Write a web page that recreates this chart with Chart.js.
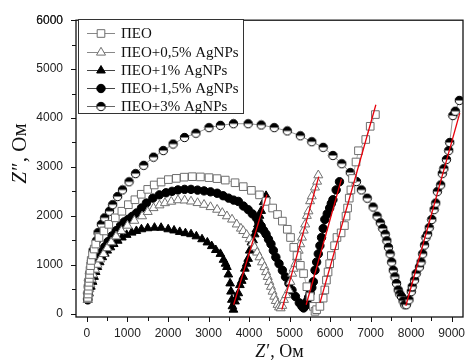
<!DOCTYPE html>
<html>
<head>
<meta charset="utf-8">
<script src="https://cdn.jsdelivr.net/npm/chart.js@4.4.1/dist/chart.umd.min.js"></script>
<style>
  html, body { margin: 0; padding: 0; background: #fff; }
  #wrap { width: 472px; height: 361px; }
</style>
</head>
<body>
<div id="wrap"><canvas id="chart" width="472" height="361"></canvas></div>
<script>
// Nyquist plot data, Z' and Z'' in Ohm
const seriesLabels = ['ПЕО', 'ПЕО+0,5% AgNPs', 'ПЕО+1% AgNPs', 'ПЕО+1,5% AgNPs', 'ПЕО+3% AgNPs'];

const peoX = [20, 28, 35, 42, 50, 58, 66, 76, 90, 105, 138, 180, 217, 297, 418, 539, 700, 862, 1022, 1184,
  1340, 1500, 1660, 1830, 2010, 2206, 2400, 2600, 2800, 3012, 3210, 3413, 3655, 3857, 4058, 4259, 4420, 4582, 4703, 4823,
  4944, 5024, 5104, 5184, 5266, 5346, 5427, 5507, 5587, 5628, 5668, 5749, 5829, 5870, 5910, 5950, 5990, 6031, 6111, 6170,
  6272, 6353, 6393, 6432, 6473, 6514, 6553, 6640, 6700, 6880, 6990, 7118];
const peoY = [330, 400, 480, 560, 640, 720, 800, 885, 980, 1087, 1200, 1320, 1422, 1556, 1690, 1825, 1958, 2093, 2227, 2328,
  2440, 2540, 2630, 2690, 2740, 2765, 2790, 2800, 2795, 2780, 2760, 2730, 2676, 2596, 2520, 2428, 2294, 2159, 2026, 1891,
  1724, 1556, 1354, 1187, 986, 818, 550, 348, 147, 46, 80, 147, 316, 483, 684, 851, 1020, 1187, 1388, 1556,
  1650, 1800, 1992, 2159, 2361, 2529, 2763, 3100, 3330, 3560, 3830, 4070];

const ag05X = [20, 40, 60, 85, 115, 150, 200, 260, 330, 410, 500, 600, 720, 850, 1000, 1170, 1361, 1500, 1643, 1790,
  1925, 2080, 2246, 2410, 2568, 2730, 2890, 3050, 3213, 3340, 3454, 3580, 3696, 3800, 3857, 3940, 4017, 4080, 4138, 4200,
  4259, 4320, 4380, 4420, 4461, 4500, 4541, 4580, 4622, 4660, 4703, 4740, 4780, 4820, 4863, 4920, 4984, 5020, 5064, 5100,
  5145, 5185, 5225, 5265, 5306, 5350, 5386, 5427, 5467, 5507, 5548, 5628, 5680, 5709];
const ag05Y = [280, 400, 500, 600, 700, 800, 900, 1000, 1110, 1220, 1340, 1460, 1580, 1690, 1800, 1900, 1992, 2080, 2159, 2215,
  2260, 2290, 2320, 2315, 2294, 2262, 2227, 2180, 2126, 2060, 1992, 1925, 1825, 1740, 1690, 1610, 1523, 1440, 1354, 1250,
  1153, 1050, 952, 850, 751, 650, 550, 450, 348, 260, 181, 130, 110, 160, 282, 380, 483, 650, 818, 920,
  1020, 1150, 1288, 1420, 1556, 1700, 1825, 2000, 2093, 2300, 2400, 2580, 2700, 2830];

const ag1X = [20, 50, 97, 140, 176, 215, 258, 315, 379, 440, 500, 580, 660, 760, 862, 980, 1104, 1220, 1345, 1500,
  1667, 1830, 2005, 2150, 2290, 2430, 2568, 2700, 2840, 2971, 3080, 3180, 3293, 3370, 3420, 3454, 3490, 3534, 3555, 3575,
  3590, 3616, 3655, 3700, 3736, 3775, 3820, 3857, 3897, 3940, 3978, 4017, 4058, 4100, 4140, 4179, 4219, 4259, 4300, 4360,
  4420];
const ag1Y = [280, 420, 550, 650, 751, 850, 952, 1050, 1153, 1225, 1288, 1355, 1422, 1490, 1556, 1610, 1656, 1690, 1724, 1745,
  1757, 1755, 1724, 1700, 1670, 1645, 1623, 1580, 1520, 1455, 1380, 1300, 1221, 1100, 1020, 952, 800, 617, 450, 282,
  150, 80, 248, 330, 416, 583, 670, 751, 919, 1020, 1120, 1288, 1455, 1500, 1620, 1720, 1825, 2000, 2100, 2280,
  2408];

const ag15X = [20, 35, 60, 90, 120, 160, 200, 250, 310, 370, 440, 520, 620, 720, 830, 920, 1022, 1120, 1225, 1345,
  1466, 1626, 1787, 1950, 2100, 2246, 2410, 2568, 2730, 2890, 3050, 3213, 3360, 3495, 3620, 3736, 3860, 3978, 4080, 4179,
  4240, 4300, 4360, 4420, 4480, 4541, 4600, 4662, 4740, 4823, 4900, 4984, 5060, 5145, 5240, 5306, 5346, 5390, 5427, 5470,
  5507, 5550, 5587, 5628, 5668, 5709, 5749, 5789, 5830, 5870, 5930, 5990, 6030, 6070, 6150, 6232];
const ag15Y = [280, 400, 523, 639, 736, 847, 943, 1049, 1161, 1261, 1366, 1472, 1590, 1696, 1799, 1875, 1930, 1990, 2058, 2159,
  2260, 2361, 2428, 2470, 2500, 2529, 2540, 2540, 2525, 2509, 2490, 2461, 2410, 2361, 2320, 2294, 2200, 2126, 2040, 1958,
  1870, 1791, 1700, 1623, 1520, 1422, 1290, 1153, 1020, 885, 750, 617, 480, 348, 220, 147, 115, 160, 248, 330,
  416, 530, 650, 885, 1053, 1221, 1388, 1556, 1740, 1925, 2040, 2159, 2250, 2328, 2529, 2696];

const ag3X = [20, 25, 31, 50, 72, 113, 152, 234, 273, 355, 435, 556, 635, 756, 877, 1039, 1200, 1401, 1643, 1884,
  2126, 2408, 2689, 3012, 3293, 3616, 3978, 4300, 4621, 4944, 5266, 5548, 5829, 6070, 6288, 6498, 6650, 6771, 6916, 7061,
  7158, 7239, 7300, 7360, 7400, 7440, 7481, 7520, 7560, 7600, 7640, 7681, 7720, 7761, 7800, 7842, 7882, 7947, 8003, 8027,
  8084, 8124, 8205, 8245, 8285, 8330, 8365, 8406, 8446, 8510, 8567, 8607, 8647, 8728, 8768, 8808, 8870, 8928, 8952, 9030,
  9089, 9190];
const ag3Y = [300, 420, 550, 680, 818, 1087, 1288, 1489, 1656, 1825, 1958, 2093, 2227, 2394, 2529, 2696, 2863, 3032, 3199, 3334,
  3467, 3602, 3688, 3803, 3850, 3883, 3883, 3857, 3803, 3736, 3636, 3515, 3400, 3233, 3065, 2884, 2700, 2529, 2360, 2179,
  1992, 1857, 1740, 1623, 1490, 1354, 1221, 1053, 885, 751, 617, 483, 400, 348, 260, 181, 181, 282, 449, 550,
  684, 818, 952, 1053, 1221, 1400, 1556, 1623, 1757, 1925, 2126, 2260, 2495, 2630, 2863, 2964, 3150, 3334, 3500, 4050,
  4139, 4360];

// red linear fits of the low-frequency tails (end points)
const fitPeoX = [5750, 7130], fitPeoY = [220, 4270];
const fit05X = [4810, 5720], fit05Y = [80, 2800];
const fit1X = [3620, 4440], fit1Y = [180, 2430];
const fit15X = [5410, 6280], fit15Y = [180, 2750];
const fit3X = [7870, 9200], fit3Y = [160, 4100];

const xTickValues = [0, 1000, 2000, 3000, 4000, 5000, 6000, 7000, 8000, 9000];
const yTickValues = [0, 1000, 2000, 3000, 4000, 5000, 6000];

const toPoints = (xs, ys) => xs.map((x, i) => ({ x: x, y: ys[i] }));

// half filled circle marker (top black, bottom white)
function halfCircle() {
    const c = document.createElement('canvas');
    c.width = 11; c.height = 11;
    const g = c.getContext('2d');
    g.beginPath(); g.arc(5.5, 5.5, 4.2, 0, Math.PI * 2); g.fillStyle = '#fff'; g.fill();
    g.beginPath(); g.arc(5.5, 5.5, 4.2, Math.PI, 0); g.closePath(); g.fillStyle = '#000'; g.fill();
    g.beginPath(); g.arc(5.5, 5.5, 4.2, 0, Math.PI * 2); g.lineWidth = 1; g.strokeStyle = '#000'; g.stroke();
    return c;
}

function series(label, xs, ys, style, radius, fill, stroke, lineColor) {
    return {
        label: label,
        data: toPoints(xs, ys),
        showLine: true,
        borderColor: lineColor,
        borderWidth: 0.7,
        pointStyle: style,
        pointRadius: radius,
        pointBackgroundColor: fill,
        pointBorderColor: stroke,
        pointBorderWidth: 1,
        inLegend: true
    };
}

function fit(xs, ys) {
    return {
        data: toPoints(xs, ys),
        showLine: true,
        borderColor: '#e8000b',
        borderWidth: 1.3,
        pointRadius: 0,
        order: -1,
        inLegend: false
    };
}

const datasets = [
    series(seriesLabels[0], peoX, peoY, 'rect', 5.4, '#fff', '#6e6e6e', '#888'),
    series(seriesLabels[1], ag05X, ag05Y, 'triangle', 5.2, '#fff', '#707070', '#888'),
    series(seriesLabels[2], ag1X, ag1Y, 'triangle', 5, '#000', '#000', '#444'),
    series(seriesLabels[3], ag15X, ag15Y, 'circle', 4.2, '#000', '#000', '#444'),
    series(seriesLabels[4], ag3X, ag3Y, halfCircle(), 4.2, '#000', '#000', '#666'),
    fit(fitPeoX, fitPeoY),
    fit(fit05X, fit05Y),
    fit(fit1X, fit1Y),
    fit(fit15X, fit15Y),
    fit(fit3X, fit3Y)
];

// frame, ticks, axis titles and the boxed legend
const decorations = {
    id: 'decorations',
    afterDraw(chart) {
        const ctx = chart.ctx;
        const a = chart.chartArea;
        const xs = chart.scales.x, ys = chart.scales.y;
        ctx.save();
        ctx.strokeStyle = '#111';
        ctx.lineWidth = 1.3;
        ctx.strokeRect(a.left, a.top, a.right - a.left, a.bottom - a.top);

        ctx.lineWidth = 1;
        ctx.beginPath();
        for (let v = 0; v <= 9000; v += 500) {
            const px = Math.round(xs.getPixelForValue(v)) + 0.5;
            ctx.moveTo(px, a.bottom);
            ctx.lineTo(px, a.bottom + (v % 1000 === 0 ? 5 : 4));
        }
        for (let v = 0; v <= 6000; v += 500) {
            const py = Math.round(ys.getPixelForValue(v)) + 0.5;
            ctx.moveTo(a.left, py);
            ctx.lineTo(a.left - (v % 1000 === 0 ? 5 : 4), py);
        }
        ctx.stroke();

        // axis titles
        ctx.fillStyle = '#111';
        ctx.textBaseline = 'middle';
        drawTitle(ctx, "Z", "\u2032, Ом", 279, 352, 0, 18);
        drawTitle(ctx, "Z", "\u2033, Ом", 20, 154, -Math.PI / 2, 21);

        // legend
        ctx.fillStyle = '#fff';
        ctx.fillRect(78, 19, 165, 94);
        ctx.strokeStyle = '#333';
        ctx.lineWidth = 1;
        ctx.strokeRect(78.5, 19.5, 165, 94);
        const rows = [33, 52, 70, 88, 106];
        chart.data.datasets.filter(d => d.inLegend).forEach((d, i) => {
            const yy = rows[i];
            ctx.strokeStyle = d.borderColor;
            ctx.lineWidth = 1;
            ctx.beginPath();
            ctx.moveTo(87, yy + 0.5);
            ctx.lineTo(115, yy + 0.5);
            ctx.stroke();
            ctx.fillStyle = d.pointBackgroundColor;
            ctx.strokeStyle = d.pointBorderColor;
            Chart.helpers.drawPoint(ctx, { pointStyle: d.pointStyle, radius: d.pointRadius, rotation: 0, borderWidth: 1 }, 101, yy + 0.5);
            ctx.fillStyle = '#111';
            ctx.font = '15px "Liberation Serif", "Times New Roman", serif';
            ctx.textAlign = 'left';
            ctx.textBaseline = 'middle';
            ctx.fillText(d.label, 121, yy + 1);
        });
        ctx.restore();
    }
};

// italic Z followed by the rest in upright serif, centred on (cx, cy)
function drawTitle(ctx, italicPart, rest, cx, cy, angle, size) {
    const fi = 'italic ' + size + 'px "Liberation Serif", serif';
    const fr = size + 'px "Liberation Serif", serif';
    ctx.font = fi;
    const w1 = ctx.measureText(italicPart).width;
    ctx.font = fr;
    const w2 = ctx.measureText(rest).width;
    ctx.save();
    ctx.translate(cx, cy);
    ctx.rotate(angle);
    ctx.textAlign = 'left';
    const x0 = -(w1 + w2) / 2;
    ctx.font = fi;
    ctx.fillText(italicPart, x0, 0);
    ctx.font = fr;
    ctx.fillText(rest, x0 + w1 + 1, 0);
    ctx.restore();
}

function tickList(min, max) {
    const list = [{ value: min }];
    for (let v = 0; v <= max; v += 500) list.push({ value: v });
    list.push({ value: max });
    return list;
}

const tickFont = { family: '"Liberation Sans", Arial, sans-serif', size: 12 };

new Chart(document.getElementById('chart').getContext('2d'), {
    type: 'scatter',
    data: { datasets: datasets },
    options: {
        responsive: false,
        animation: false,
        events: [],
        layout: { padding: { top: 16, right: 1, left: 0, bottom: 0 } },
        plugins: { legend: { display: false }, tooltip: { enabled: false } },
        elements: { line: { tension: 0 } },
        scales: {
            x: {
                type: 'linear',
                min: -270,
                max: 9280,
                grid: { display: false, drawTicks: false },
                border: { display: false },
                afterBuildTicks: s => { s.ticks = tickList(-270, 9280); },
                afterFit: s => { s.height = 44; },
                ticks: {
                    autoSkip: false,
                    maxRotation: 0,
                    padding: 9,
                    color: '#222',
                    font: tickFont,
                    callback: v => (xTickValues.includes(v) ? String(v) : '')
                }
            },
            y: {
                type: 'linear',
                min: -70,
                max: 6000,
                grid: { display: false, drawTicks: false },
                border: { display: false },
                afterBuildTicks: s => { s.ticks = tickList(-70, 6000); },
                afterFit: s => { s.width = 76; },
                ticks: {
                    autoSkip: false,
                    padding: 13,
                    color: '#222',
                    font: tickFont,
                    callback: v => (yTickValues.includes(v) ? String(v) : '')
                }
            }
        }
    },
    plugins: [decorations]
});
</script>
</body>
</html>
